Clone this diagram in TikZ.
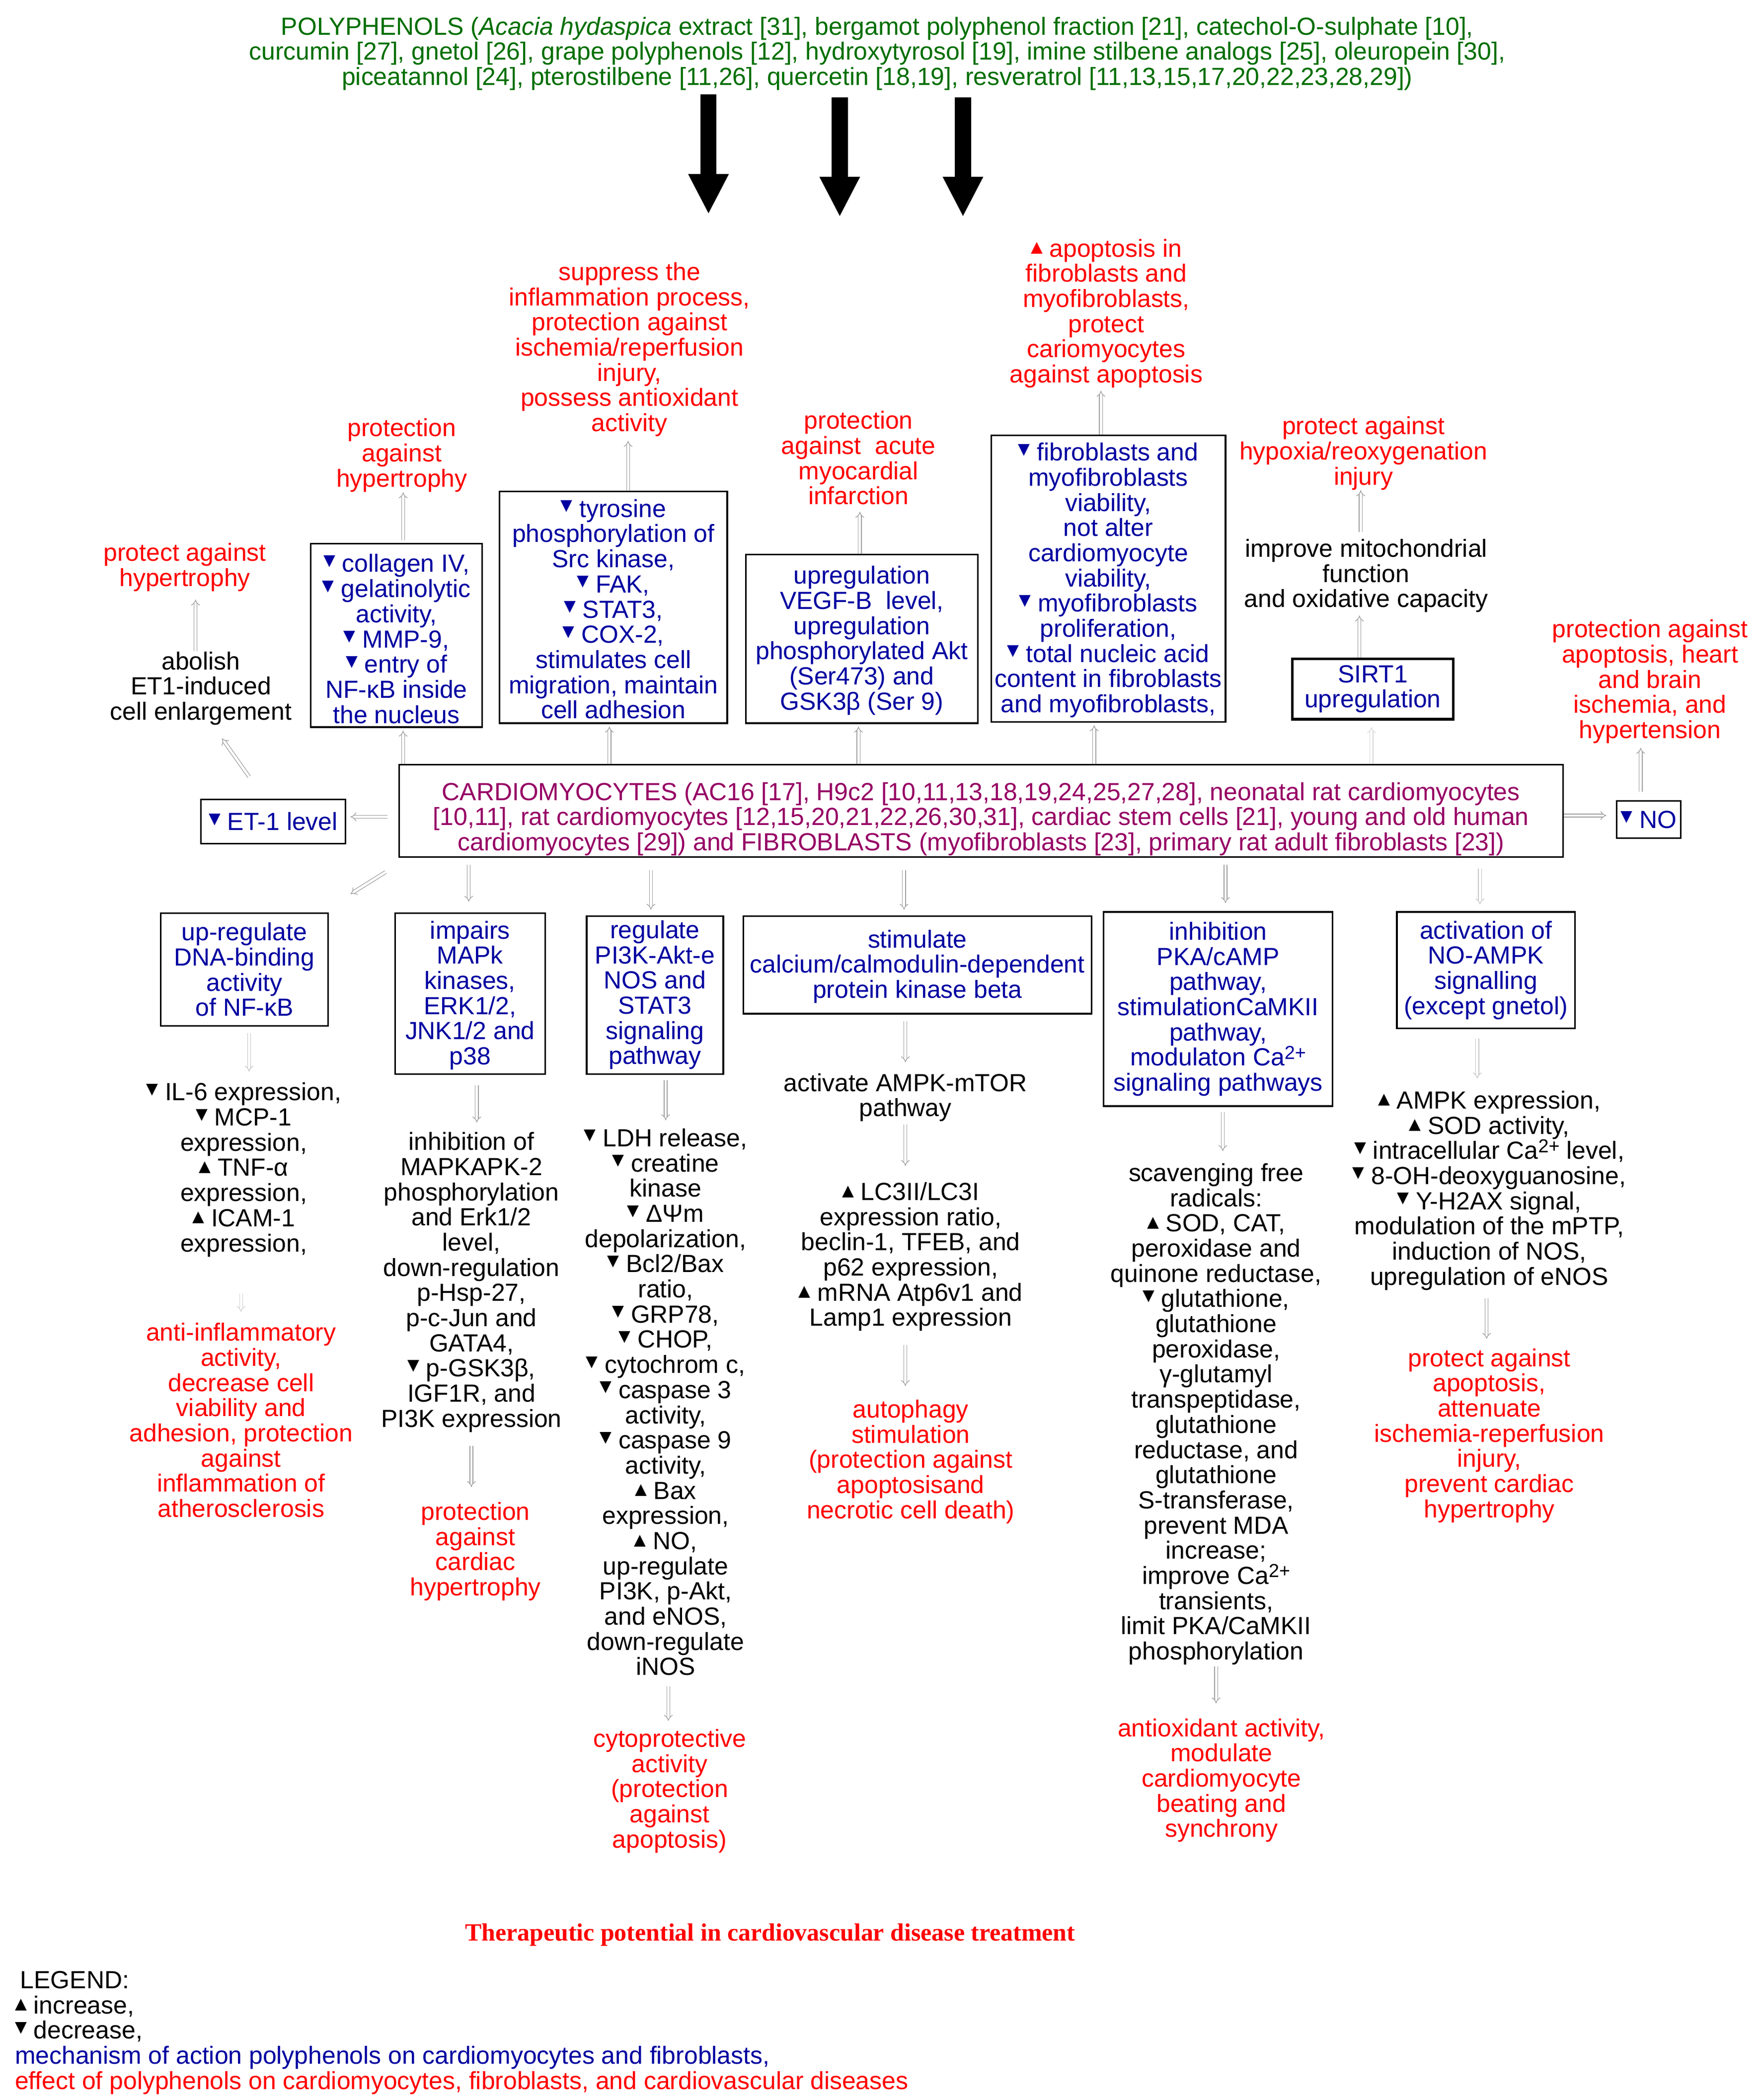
\documentclass[tikz,border=0pt]{standalone}
\usepackage{fontspec}
\setmainfont{Liberation Sans}
\newfontfamily\ttlfont{Liberation Serif}
\newfontfamily\symfont{DejaVu Sans}
\usetikzlibrary{arrows.meta,calc}
\definecolor{tgreen}{RGB}{0,110,0}
\definecolor{tblue}{RGB}{0,0,160}
\definecolor{tred}{RGB}{255,0,0}
\definecolor{tpurple}{RGB}{150,0,100}
\newcommand{\fs}{\fontsize{18.5}{18.8}\selectfont}
\newcommand{\decr}{\raisebox{5pt}{\symfont\fontsize{11.5}{11.5}\selectfont ▼}}
\newcommand{\incr}{\raisebox{3.5pt}{\symfont\fontsize{11.5}{11.5}\selectfont ▲}}
\newcommand{\casup}[1]{\smash{\raisebox{5pt}{\fontsize{14}{14}\selectfont #1}}}
\begin{document}
\begin{tikzpicture}[x=1pt,y=-1pt,
  every node/.style={inner sep=0pt, align=center, font=\fs},
  redt/.style={text=tred},
  bluebox/.style={draw=black, line width=1.2pt, text=tblue},
  harrow/.style={draw=gray!75, line width=0.5pt, double=white, double distance=1.8pt, -{Implies}},
  bigarrow/.style={line width=12pt, -{Triangle[length=30pt,width=28pt]}}]
\useasboundingbox[fill=white] (0,0) rectangle (1316,1568.2);

% title
\node[text=tgreen] (title) at (655,40) {POLYPHENOLS (\textit{Acacia hydaspica} extract [31], bergamot polyphenol fraction [21], catechol-O-sulphate [10],\\curcumin [27], gnetol [26], grape polyphenols [12], hydroxytyrosol [19], imine stilbene analogs [25], oleuropein [30],\\piceatannol [24], pterostilbene [11,26], quercetin [18,19], resveratrol [11,13,15,17,20,22,23,28,29])};

\coordinate (ba1) at (529,160);
\coordinate (ba2) at (627,162);
\coordinate (ba3) at (719,162);
\draw[bigarrow, shorten <=3pt] (ba1 |- title.south) -- (ba1);
\draw[bigarrow, shorten <=5pt] (ba2 |- title.south) -- (ba2);
\draw[bigarrow, shorten <=5pt] (ba3 |- title.south) -- (ba3);

% upper red/black texts
\node[redt] (tsup) at (470,261) {suppress the\\inflammation process,\\protection against\\ischemia/reperfusion\\injury,\\possess antioxidant\\activity};
\node[redt] (tapop) at (826,234) {\incr{} apoptosis in\\fibroblasts and\\myofibroblasts,\\protect\\cariomyocytes\\against apoptosis};
\node[redt] (tacute) at (641,342) {protection\\against\ \ acute\\myocardial\\infarction};
\node[redt] (thyp1) at (300,340) {protection\\against\\hypertrophy};
\node[redt] (thyp2) at (138,423.5) {protect against\\hypertrophy};
\node[redt] (thypox) at (1018,338.5) {protect against\\hypoxia/reoxygenation\\injury};
\node (tmito) at (1020,430) {improve mitochondrial\\function\\and oxidative capacity};
\node[redt] (tnored) at (1232,509) {protection against\\apoptosis, heart\\and brain\\ischemia, and\\hypertension};
\node (tabol) at (150,514) {abolish\\ET1-induced\\cell enlargement};

% upper boxes
\node[bluebox, minimum width=128, minimum height=137] (colbox) at (296,474.5) {\rule{0pt}{18.5pt}\decr{} collagen IV,\\\decr{} gelatinolytic\\activity,\\\decr{} MMP-9,\\\decr{} entry of\\NF-κB inside\\the nucleus};
\node[bluebox, minimum width=170, minimum height=173] (tyrbox) at (458,453.5) {\rule{0pt}{16pt}\decr{} tyrosine\\phosphorylation of\\Src kinase,\\\decr{} FAK,\\\decr{} STAT3,\\\decr{} COX-2,\\stimulates cell\\migration, maintain\\cell adhesion};
\node[bluebox, minimum width=173, minimum height=126] (vegfbox) at (643.5,477) {\rule{0pt}{16pt}upregulation\\VEGF-B\ \ level,\\upregulation\\phosphorylated Akt\\(Ser473) and\\GSK3β (Ser 9)};
\node[bluebox, minimum width=175, minimum height=214] (fibbox) at (827.5,432) {\rule{0pt}{16pt}\decr{} fibroblasts and\\myofibroblasts\\viability,\\not alter\\cardiomyocyte\\viability,\\\decr{} myofibroblasts\\proliferation,\\\decr{} total nucleic acid\\content in fibroblasts\\and myofibroblasts,};
\node[bluebox, line width=2pt, minimum width=120, minimum height=45] (sirtbox) at (1025,514.5) {SIRT1\\upregulation};
\node[bluebox, minimum width=108, minimum height=33] (etbox) at (204,613.5) {\decr{} ET-1 level};
\node[bluebox, minimum width=48, minimum height=28] (nobox) at (1231,612) {\decr{} NO};

% main box
\node[draw=black, line width=1.3pt, text=tpurple, minimum width=869, minimum height=69] (mainbox) at (732.5,605.5) {\rule{0pt}{25.5pt}CARDIOMYOCYTES (AC16 [17], H9c2 [10,11,13,18,19,24,25,27,28], neonatal rat cardiomyocytes\\{}[10,11], rat cardiomyocytes [12,15,20,21,22,26,30,31], cardiac stem cells [21], young and old human\\cardiomyocytes [29]) and FIBROBLASTS (myofibroblasts [23], primary rat adult fibroblasts [23])};

% lower boxes
\node[bluebox, minimum width=125, minimum height=84] (nfkbox) at (182.5,724) {up-regulate\\DNA-binding\\activity\\of NF-κB};
\node[bluebox, minimum width=112, minimum height=120] (mapkbox) at (351,742) {\rule{0pt}{16pt}impairs\\MAPk\\kinases,\\ERK1/2,\\JNK1/2 and\\p38};
\node[bluebox, minimum width=102, minimum height=118] (pi3kbox) at (489,743) {regulate\\PI3K-Akt-e\\NOS and\\STAT3\\signaling\\pathway};
\node[bluebox, minimum width=260, minimum height=73] (calbox) at (685,720.5) {\rule{0pt}{16pt}stimulate\\calcium/calmodulin-dependent\\protein kinase beta};
\node[bluebox, minimum width=171, minimum height=145] (pkabox) at (909.5,753.5) {inhibition\\PKA/cAMP\\pathway,\\stimulationCaMKII\\pathway,\\modulaton Ca\casup{2+}\\signaling pathways};
\node[bluebox, minimum width=133, minimum height=87] (noampkbox) at (1109.5,724.5) {activation of\\NO-AMPK\\signalling\\(except gnetol)};

% lower texts
\node (c1b) at (182,873.5) {\decr{} IL-6 expression,\\\decr{} MCP-1\\expression,\\\incr{} TNF-α\\expression,\\\incr{} ICAM-1\\expression,};
\node[redt] (c1r) at (180,1060.5) {anti-inflammatory\\activity,\\decrease cell\\viability and\\adhesion, protection\\against\\inflammation of\\atherosclerosis};
\node (c2b) at (352,957.5) {inhibition of\\MAPKAPK-2\\phosphorylation\\and Erk1/2\\level,\\down-regulation\\p-Hsp-27,\\p-c-Jun and\\GATA4,\\\decr{} p-GSK3β,\\IGF1R, and\\PI3K expression};
\node[redt] (c2r) at (355,1158.5) {protection\\against\\cardiac\\hypertrophy};
\node (c3b) at (497,1047) {\decr{} LDH release,\\\decr{} creatine\\kinase\\\decr{} ΔΨm\\depolarization,\\\decr{} Bcl2/Bax\\ratio,\\\decr{} GRP78,\\\decr{} CHOP,\\\decr{} cytochrom c,\\\decr{} caspase 3\\activity,\\\decr{} caspase 9\\activity,\\\incr{} Bax\\expression,\\\incr{} NO,\\up-regulate\\PI3K, p-Akt,\\and eNOS,\\down-regulate\\iNOS};
\node[redt] (c3r) at (500,1337.5) {cytoprotective\\activity\\(protection\\against\\apoptosis)};
\node (c4a) at (676,819.5) {activate AMPK-mTOR\\pathway};
\node (c4b) at (680,938.5) {\incr{} LC3II/LC3I\\expression ratio,\\beclin-1, TFEB, and\\p62 expression,\\\incr{} mRNA Atp6v1 and\\Lamp1 expression};
\node[redt] (c4r) at (680,1091.5) {autophagy\\stimulation\\(protection against\\apoptosisand\\necrotic cell death)};
\node (c5b) at (908,1056) {scavenging free\\radicals:\\\incr{} SOD, CAT,\\peroxidase and\\quinone reductase,\\\decr{} glutathione,\\glutathione\\peroxidase,\\γ-glutamyl\\transpeptidase,\\glutathione\\reductase, and\\glutathione\\S-transferase,\\prevent MDA\\increase;\\improve Ca\casup{2+}\\transients,\\limit PKA/CaMKII\\phosphorylation};
\node[redt] (c5r) at (912,1329.5) {antioxidant activity,\\modulate\\cardiomyocyte\\beating and\\synchrony};
\node (c6b) at (1112,889) {\incr{} AMPK expression,\\\incr{} SOD activity,\\\decr{} intracellular Ca\casup{2+} level,\\\decr{} 8-OH-deoxyguanosine,\\\decr{} Υ-H2AX signal,\\modulation of the mPTP,\\induction of NOS,\\upregulation of eNOS};
\node[redt] (c6r) at (1112,1072) {protect against\\apoptosis,\\attenuate\\ischemia-reperfusion\\injury,\\prevent cardiac\\hypertrophy};

% bottom title and legend
\node[font={\ttlfont\bfseries\fontsize{18.5}{19}\selectfont}, text=tred] (ttl) at (575,1445) {Therapeutic potential in cardiovascular disease treatment};
\node[anchor=west, align=left] (legend) at (11,1518) {\hspace*{4pt}LEGEND:\\\incr{} increase,\\\decr{} decrease,\\\textcolor{tblue}{mechanism of action polyphenols on cardiomyocytes and fibroblasts,}\\\textcolor{tred}{effect of polyphenols on cardiomyocytes, fibroblasts, and cardiovascular diseases}};

% connectors upward
\draw[harrow, shorten >=2pt] ([xshift=5pt]colbox.south |- mainbox.north) -- ([xshift=5pt]colbox.south);
\draw[harrow, shorten <=2pt] ([xshift=5pt]colbox.north) -- ([xshift=5pt]colbox.north |- thyp1.south);
\draw[harrow, shorten >=2pt] ([xshift=-3pt]tyrbox.south |- mainbox.north) -- ([xshift=-3pt]tyrbox.south);
\draw[harrow, shorten >=3pt] ([xshift=11pt]tyrbox.north) -- ([xshift=11pt]tyrbox.north |- tsup.south);
\draw[harrow, shorten >=2pt] ([xshift=-2.5pt]vegfbox.south |- mainbox.north) -- ([xshift=-2.5pt]vegfbox.south);
\draw[harrow, shorten >=5pt] ([xshift=-1.5pt]vegfbox.north) -- ([xshift=-1.5pt]vegfbox.north |- tacute.south);
\draw[harrow, shorten >=2pt] ([xshift=-10.5pt]fibbox.south |- mainbox.north) -- ([xshift=-10.5pt]fibbox.south);
\draw[harrow, shorten >=2pt] ([xshift=-5.5pt]fibbox.north) -- ([xshift=-5.5pt]fibbox.north |- tapop.south);
\draw[harrow, draw=gray!30, shorten >=5pt] ([xshift=-1pt]sirtbox.south |- mainbox.north) -- ([xshift=-1pt]sirtbox.south);
\draw[harrow, shorten >=2pt] ([xshift=-10pt]sirtbox.north) -- ([xshift=-10pt]sirtbox.north |- tmito.south);
\draw[harrow, shorten <=5pt] ([xshift=-4pt]tmito.north) -- ([xshift=-4pt]tmito.north |- thypox.south);
\draw[harrow, shorten >=7pt] ([yshift=-3.5pt]mainbox.east) -- ([yshift=-3.5pt]mainbox.east -| nobox.west);
\draw[harrow, shorten <=8pt, shorten >=3pt] ([yshift=-4.5pt]mainbox.west) -- ([yshift=-4.5pt]mainbox.west -| etbox.east);
\draw[harrow, shorten <=6pt, shorten >=3pt] ([xshift=-6pt]nobox.north) -- ([xshift=-6pt]nobox.north |- tnored.south);
\draw[harrow, shorten <=20pt, shorten >=12pt] ([xshift=-6.4pt]etbox.north) -- ([xshift=8.8pt]tabol.south);
\draw[harrow, shorten >=6pt] ([xshift=-4pt]tabol.north) -- ([xshift=-4pt]tabol.north |- thyp2.south);

% connectors downward
\draw[harrow, shorten <=20pt, shorten >=26pt] ([xshift=7.5pt]mainbox.south west) -- ([xshift=-6pt]nfkbox.north east);
\draw[harrow, shorten <=5pt, shorten >=8pt] ([xshift=-1pt]mapkbox.north |- mainbox.south) -- ([xshift=-1pt]mapkbox.north);
\draw[harrow, shorten <=9pt, shorten >=4pt] ([xshift=-3pt]pi3kbox.north |- mainbox.south) -- ([xshift=-3pt]pi3kbox.north);
\draw[harrow, shorten <=9pt, shorten >=4pt] ([xshift=-10pt]calbox.north |- mainbox.south) -- ([xshift=-10pt]calbox.north);
\draw[harrow, shorten <=5pt, shorten >=6pt] ([xshift=5.5pt]pkabox.north |- mainbox.south) -- ([xshift=5.5pt]pkabox.north);
\draw[harrow, draw=gray!45, shorten <=8pt, shorten >=5pt] ([xshift=-4.5pt]noampkbox.north |- mainbox.south) -- ([xshift=-4.5pt]noampkbox.north);

\draw[harrow, draw=gray!45, shorten <=5pt, shorten >=8pt] ([xshift=3.5pt]nfkbox.south) -- ([xshift=3.5pt]nfkbox.south |- c1b.north);
\draw[harrow, draw=gray!35, shorten <=27pt, shorten >=8pt] ([xshift=-2pt]c1b.south) -- ([xshift=-2pt]c1b.south |- c1r.north);
\draw[harrow, shorten <=8pt, shorten >=7pt] ([xshift=5pt]mapkbox.south) -- ([xshift=5pt]mapkbox.south |- c2b.north);
\draw[harrow, shorten <=10pt, shorten >=11pt] (c2b.south) -- (c2b.south |- c2r.north);
\draw[harrow, shorten <=4pt, shorten >=6pt] ([xshift=8pt]pi3kbox.south) -- ([xshift=8pt]pi3kbox.south |- c3b.north);
\draw[harrow, shorten <=8pt, shorten >=6pt] ([xshift=2pt]c3b.south) -- ([xshift=2pt]c3b.south |- c3r.north);
\draw[harrow, shorten <=5pt, shorten >=8pt] ([xshift=-9pt]calbox.south) -- ([xshift=-9pt]calbox.south |- c4a.north);
\draw[harrow, shorten <=2pt, shorten >=12pt] (c4a.south) -- (c4a.south |- c4b.north);
\draw[harrow, shorten <=10pt, shorten >=10pt] ([xshift=-4pt]c4b.south) -- ([xshift=-4pt]c4b.south |- c4r.north);
\draw[harrow, shorten <=4pt, shorten >=9pt] ([xshift=3.5pt]pkabox.south) -- ([xshift=3.5pt]pkabox.south |- c5b.north);
\draw[harrow, shorten <=1pt, shorten >=11pt] (c5b.south) -- (c5b.south |- c5r.north);
\draw[harrow, draw=gray!45, shorten <=7pt, shorten >=9pt] ([xshift=-6.5pt]noampkbox.south) -- ([xshift=-6.5pt]noampkbox.south |- c6b.north);
\draw[harrow, shorten <=6pt, shorten >=7pt] ([xshift=-2pt]c6b.south) -- ([xshift=-2pt]c6b.south |- c6r.north);
\end{tikzpicture}
\end{document}
